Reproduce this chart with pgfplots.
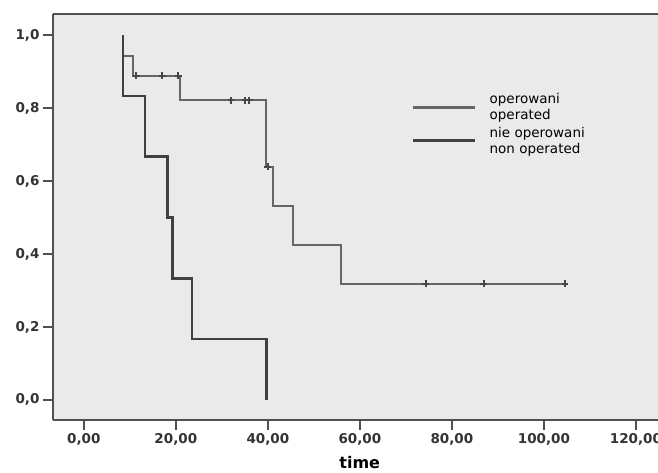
\documentclass[border=0pt]{standalone}
\usepackage{pgfplots}
\pgfplotsset{compat=1.18}
\usepackage{fontspec}
\setmainfont{DejaVu Sans}
\definecolor{bgc}{HTML}{EAEAEA}
\definecolor{opc}{HTML}{666666}
\definecolor{nopc}{HTML}{404040}
\definecolor{framec}{HTML}{505050}
\begin{document}
\begin{tikzpicture}[x=1pt,y=1pt]
\useasboundingbox (0,0) rectangle (658,473);
\clip (0,0) rectangle (658,473);
\begin{axis}[
  at={(53pt,53pt)}, anchor=south west,
  scale only axis, width=605pt, height=406pt,
  xmin=-6.7, xmax=124.8, ymin=-0.055, ymax=1.058,
  axis x line*=box, axis y line*=left,
  xtick pos=bottom, ytick pos=left,
  tick align=outside,
  major tick length=10pt,
  every tick/.style={line width=2pt, color=framec},
  axis line style={line width=1.8pt, color=framec},
  axis background/.style={fill=bgc},
  xtick={0,20,...,120}, ytick={0,0.2,...,1.0},
  xticklabel style={font=\bfseries\fontsize{13.5}{15}\selectfont, color=black!80,
    /pgf/number format/.cd, fixed, fixed zerofill, precision=2, use comma, assume math mode=true},
  yticklabel style={font=\bfseries\fontsize{13.5}{15}\selectfont, color=black!80,
    /pgf/number format/.cd, fixed, fixed zerofill, precision=1, use comma, assume math mode=true},
  xlabel={time},
  xlabel style={font=\bfseries\fontsize{16}{17}\selectfont, at={(rel axis cs:0.507,0)}, anchor=north, yshift=-33pt},
  legend style={at={(rel axis cs:0.588,0.815)}, anchor=north west, draw=none, fill=none,
    font=\fontsize{13.5}{16}\selectfont, row sep=2pt,
    cells={anchor=west, align=left}},
  legend image code/.code={\draw[#1, line width=3pt] (0pt,0pt) -- (62pt,0pt); \path (74pt,0pt);},
]
\addlegendimage{color=opc}
\addlegendentry{operowani\\operated}
\addlegendimage{color=nopc}
\addlegendentry{nie operowani\\non operated}

% operated
\addplot[const plot, color=opc, line width=2pt, forget plot] coordinates {
 (8.5,1.0) (8.5,0.944) (10.7,0.889) (20.9,0.821) (39.6,0.639) (41.2,0.532) (45.5,0.426) (56.0,0.319) (104.6,0.319)
};
\addplot[only marks, mark=+, mark size=3.4pt, color=opc!70!black, mark options={line width=2pt}, forget plot] coordinates {
 (11.4,0.889) (17.1,0.889) (20.5,0.889) (32.0,0.821) (35.1,0.821) (36.0,0.821) (40.0,0.639) (74.3,0.319) (86.9,0.319) (104.6,0.319)
};
% non operated
\addplot[const plot, color=nopc, line width=2.8pt, forget plot] coordinates {
 (8.5,1.0) (8.5,0.833) (13.3,0.667) (18.2,0.5) (19.2,0.333) (23.5,0.167) (39.7,0.167) (39.7,0.0)
};
\end{axis}
\end{tikzpicture}
\end{document}
